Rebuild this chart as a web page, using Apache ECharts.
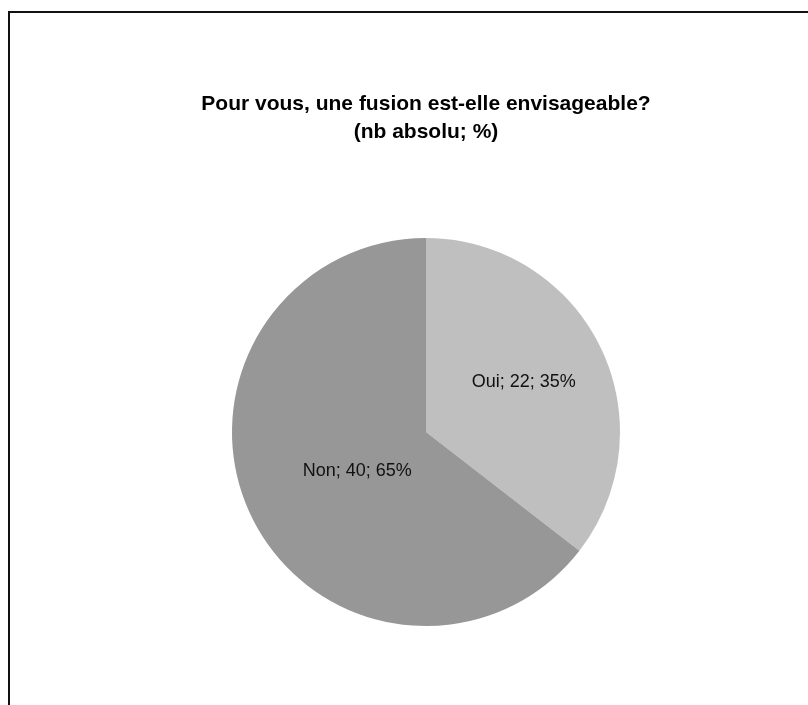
<!DOCTYPE html>
<html>
<head>
<meta charset="utf-8">
<script src="https://cdn.jsdelivr.net/npm/echarts@6/dist/echarts.min.js"></script>
<style>
html,body{margin:0;padding:0;background:#fff;}
#frame{position:absolute;left:8px;top:11px;width:900px;height:800px;border-left:2px solid #111;border-top:2px solid #111;box-sizing:border-box;}
#chart{position:absolute;left:0;top:0;width:808px;height:705px;}
</style>
</head>
<body>
<div id="frame"></div>
<div id="chart"></div>
<script>
var titleLines = ['Pour vous, une fusion est-elle envisageable?', '(nb absolu; %)'];
var categories = ['Oui', 'Non'];
var values = [22, 40];
var percents = [35, 65];
var colors = ['#bfbfbf', '#979797'];

var labelShift = [[8, -6], [21, -5]];

var chart = echarts.init(document.getElementById('chart'));
var data = categories.map(function (c, i) {
  return { name: c, value: values[i], pct: percents[i], itemStyle: { color: colors[i] } };
});
var titleGraphics = titleLines.map(function (t, i) {
  return {
    type: 'text',
    x: 426,
    y: 104 + i * 28,
    silent: true,
    style: {
      text: t,
      textAlign: 'center',
      textVerticalAlign: 'middle',
      fontFamily: 'Liberation Sans, Arial, sans-serif',
      fontWeight: 'bold',
      fontSize: 21,
      fill: '#000'
    }
  };
});
chart.setOption({
  backgroundColor: 'transparent',
  animation: false,
  graphic: titleGraphics,
  series: [{
    type: 'pie',
    center: [426, 432],
    radius: [0, 194],
    startAngle: 90,
    clockwise: true,
    silent: true,
    data: data,
    itemStyle: { borderWidth: 0 },
    label: {
      show: true,
      position: 'inner',
      formatter: function (p) { return p.name + '; ' + p.value + '; ' + p.data.pct + '%'; },
      fontFamily: 'Liberation Sans, Arial, sans-serif',
      fontSize: 18,
      color: '#111'
    },
    labelLayout: function (params) {
      var s = labelShift[params.dataIndex] || [0, 0];
      return { dx: s[0], dy: s[1] };
    },
    labelLine: { show: false }
  }]
});
</script>
</body>
</html>
